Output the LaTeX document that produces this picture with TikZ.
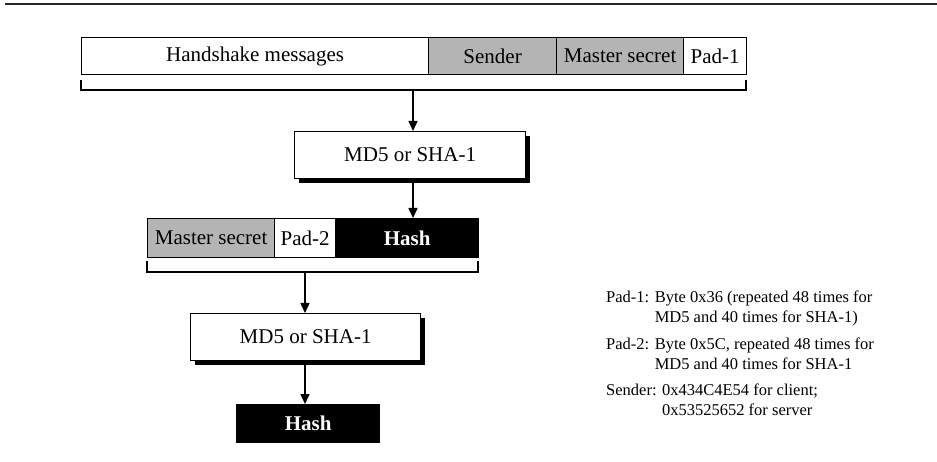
\documentclass[tikz,border=0pt]{standalone}
\usepackage{fontspec}
\setmainfont{Liberation Serif}
\usetikzlibrary{arrows.meta,shadows}
\definecolor{cellgray}{RGB}{180,180,180}
\begin{document}
\begin{tikzpicture}[x=1pt,y=-1pt,
  cell/.style={draw=black, line width=1.2pt, inner sep=0pt, anchor=north west,
    font=\fontsize{21}{25}\selectfont},
  graycell/.style={cell, fill=cellgray},
  whitecell/.style={cell, fill=white},
  blackcell/.style={cell, fill=black, text=white, font=\fontsize{21}{25}\selectfont\bfseries},
  hashbox/.style={cell, fill=black, text=white, font=\fontsize{21}{25}\selectfont\bfseries},
  procbox/.style={cell, fill=white, minimum width=231pt, minimum height=47pt,
    drop shadow={shadow xshift=4pt, shadow yshift=-4pt, fill=black, opacity=1}},
  arr/.style={line width=1.5pt, -{Triangle[length=10pt,width=9pt]}},
  brk/.style={line width=2pt},
  rulestyle/.style={line width=2pt, black!85},
  note/.style={anchor=base west, inner sep=0pt, font=\fontsize{16.5}{20}\selectfont}
]
\useasboundingbox (0,0) rectangle (937,462);

% top rule
\coordinate (r1) at (5,4);
\coordinate (r2) at (937,4);
\draw[rulestyle] (r1) -- (r2);

% first row
\node[whitecell, minimum width=347pt, minimum height=37pt] (hs) at (81,37) {Handshake messages};
\node[graycell, minimum width=128pt, minimum height=37pt] (snd) at (428,37) {Sender};
\node[graycell, minimum width=127pt, minimum height=37pt] (ms1) at (556,37) {Master secret};
\node[whitecell, minimum width=63pt, minimum height=37pt] (p1) at (683,37) {Pad-1};

% bracket 1
\coordinate (b1a) at (81,80);
\coordinate (b1b) at (746,80);
\coordinate (b1m) at (413,90);
\draw[brk] (b1a) |- (b1m) -| (b1b);

% first hash function
\node[procbox] (md1) at (294,131) {MD5 or SHA-1};
\draw[arr] (b1m) -- (b1m |- md1.north);

% second row
\node[graycell, minimum width=127pt, minimum height=39pt] (ms2) at (147,218) {Master secret};
\node[whitecell, minimum width=61pt, minimum height=39pt] (p2) at (274,218) {Pad-2};
\node[blackcell, minimum width=143pt, minimum height=39pt] (h1) at (335,218) {Hash};
\draw[arr] (md1.south -| b1m) -- (b1m |- h1.north);

% bracket 2
\coordinate (b2a) at (147,261);
\coordinate (b2b) at (478,261);
\coordinate (b2m) at (305,272);
\draw[brk] (b2a) |- (b2m) -| (b2b);

% second hash function
\node[procbox, minimum width=230pt] (md2) at (190,313) {MD5 or SHA-1};
\draw[arr] (b2m) -- (b2m |- md2.north);

% final hash
\node[hashbox, minimum width=143pt, minimum height=38pt] (h2) at (236,404) {Hash};
\draw[arr] (md2.south -| b2m) -- (b2m |- h2.north);

% notes
\node[note] (n1) at (606,303) {\begin{tabular}[t]{@{}l@{ }l@{}}Pad-1: & Byte 0x36 (repeated 48 times for\\ & MD5 and 40 times for SHA-1)\end{tabular}};
\node[note] (n2) at (606,349) {\begin{tabular}[t]{@{}l@{ }l@{}}Pad-2: & Byte 0x5C, repeated 48 times for\\ & MD5 and 40 times for SHA-1\end{tabular}};
\node[note] (n3) at (606,395) {\begin{tabular}[t]{@{}l@{ }l@{}}Sender: & 0x434C4E54 for client;\\ & 0x53525652 for server\end{tabular}};
\end{tikzpicture}
\end{document}
